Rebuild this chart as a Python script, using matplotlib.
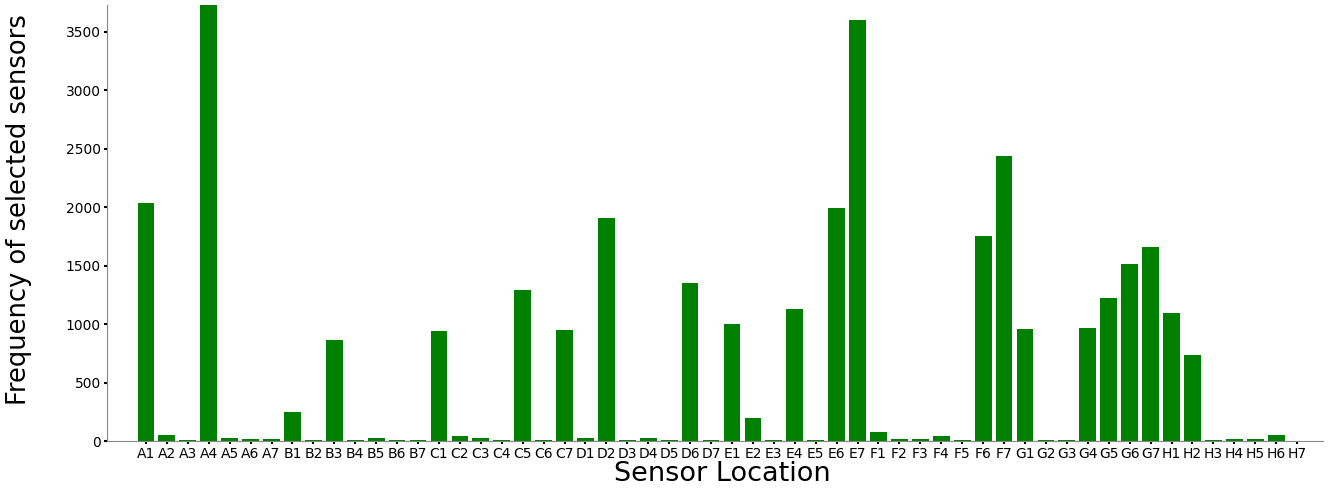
import numpy as np
import matplotlib.pyplot as plt

rows = ['A', 'B', 'C', 'D', 'E', 'F', 'G', 'H']
locations = [r + str(i) for r in rows for i in range(1, 8)]

# frequency per sensor, read row by row (A1..A7, B1..B7, ...)
freq_a = [2040, 50, 10, 3800, 30, 20, 20]
freq_b = [245, 10, 860, 10, 30, 10, 10]
freq_c = [941, 40, 25, 10, 1292, 10, 950]
freq_d = [25, 1908, 10, 25, 10, 1352, 10]
freq_e = [1001, 200, 10, 1130, 10, 1994, 3603]
freq_f = [77, 20, 20, 40, 10, 1754, 2439]
freq_g = [958, 10, 10, 967, 1224, 1515, 1660]
freq_h = [1095, 736, 10, 20, 20, 49, 0]
freq = freq_a + freq_b + freq_c + freq_d + freq_e + freq_f + freq_g + freq_h

fig = plt.figure(figsize=(13.34, 4.91), dpi=100)
ax = fig.add_axes([0.0802, 0.1018, 0.9116, 0.888])
x = np.arange(len(locations))
ax.bar(x, freq, width=0.8, color='green')
ax.set_xticks(x)
ax.set_xticklabels(locations, fontsize=10)
ax.tick_params(axis='y', labelsize=10)
ax.tick_params(length=2.5, width=1.5, color='black', pad=2)
ax.set_xlim(-1.86, 56.24)
ax.set_ylim(0, 3730)
ax.set_xlabel('Sensor Location', fontsize=19.5, labelpad=0)
ax.set_ylabel('Frequency of selected sensors', fontsize=18.5, labelpad=24)
ax.xaxis.label.set_x(0.506)
ax.yaxis.label.set_y(0.53)
for s in ['top', 'right']:
    ax.spines[s].set_visible(False)
for s in ['left', 'bottom']:
    ax.spines[s].set_color('#888888')
fig.savefig('out.png', dpi=100)
